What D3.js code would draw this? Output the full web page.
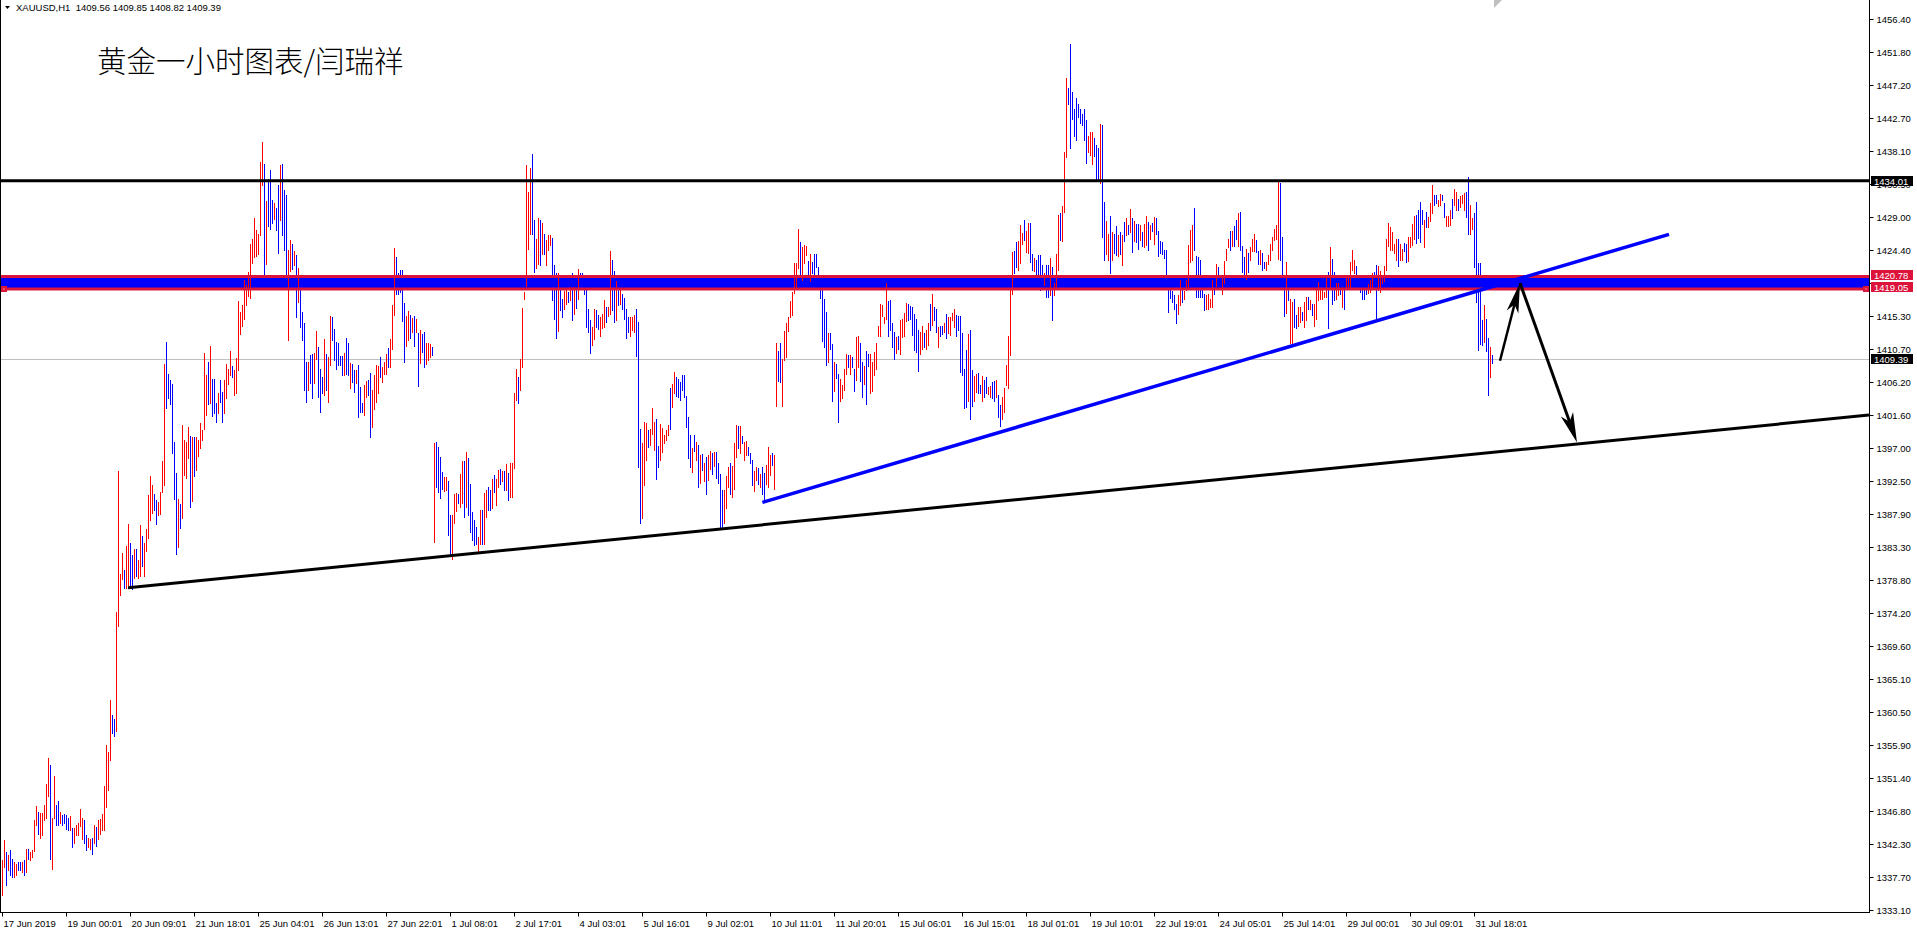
<!DOCTYPE html>
<html><head><meta charset="utf-8">
<script src="https://cdn.jsdelivr.net/npm/d3@7/dist/d3.min.js"></script>
<style>
html,body{margin:0;padding:0;background:#fff;overflow:hidden;}
svg{display:block;}
text{font-family:"Liberation Sans",Arial,sans-serif;}
</style></head><body>
<svg id="chart" width="1917" height="933"></svg>
<script>
// ---------------- DATA ----------------
const symbolInfo = "XAUUSD,H1  1409.56 1409.85 1408.82 1409.39";
const chartTitle = "黄金一小时图表/闫瑞祥";

// hourly bars (index 0 = 17 Jun 2019), high / low prices
const highs = [
1340.0,1342.8,1341.1,1340.7,1341.4,1340.2,1339.7,1339.5,1339.7,1339.8,
1339.8,1340.0,1341.5,1341.5,1341.1,1341.4,1345.5,1347.5,1346.6,1346.5,
1346.5,1347.6,1350.5,1354.1,1353.2,1345.9,1351.6,1347.6,1348.2,1346.6,
1346.3,1346.4,1346.3,1345.9,1346.1,1344.5,1344.5,1344.9,1345.2,1347.1,
1345.9,1345.6,1343.5,1343.1,1342.9,1343.1,1344.8,1344.6,1345.6,1345.7,
1346.4,1350.2,1355.9,1354.9,1362.2,1360.1,1359.5,1374.4,1393.8,1379.6,
1382.5,1380.1,1383.5,1386.5,1383.9,1382.2,1383.1,1383.0,1381.5,1386.4,
1384.8,1383.9,1385.8,1390.5,1393.1,1391.9,1390.6,1389.8,1389.6,1390.9,
1395.2,1408.7,1411.7,1407.3,1406.4,1405.9,1397.8,1393.6,1390.0,1389.3,
1400.2,1398.1,1397.9,1399.9,1398.7,1398.5,1398.5,1398.5,1398.1,1400.5,
1399.5,1410.2,1407.1,1409.0,1411.1,1406.6,1406.6,1403.3,1404.7,1406.4,
1404.8,1406.4,1408.6,1407.9,1410.4,1408.4,1407.8,1409.5,1417.4,1415.8,
1416.8,1420.3,1419.6,1421.4,1425.2,1425.9,1428.9,1427.2,1426.6,1436.6,
1439.4,1436.3,1431.2,1434.2,1435.5,1431.3,1431.0,1430.3,1433.4,1436.2,
1436.3,1432.7,1432.0,1424.5,1425.8,1425.2,1424.3,1423.7,1422.0,
1420.7,1415.9,1414.3,1409.0,1409.0,1409.9,1410.0,1410.2,1413.2,1411.0,
1408.0,1406.9,1412.1,1410.1,1409.6,1415.3,1415.2,1413.5,1411.7,1411.5,
1409.8,1409.8,1410.2,1412.3,1411.5,1408.8,1408.6,1407.8,1407.8,1408.5,
1405.5,1403.2,1405.7,1406.3,1406.5,1407.4,1405.0,1407.1,1408.5,1408.4,
1409.6,1408.3,1409.0,1410.0,1410.9,1412.1,1416.8,1424.7,1423.5,1421.2,
1421.6,1421.7,1417.1,1415.3,1416.0,1415.4,1415.0,1415.3,1414.9,1413.0,
1413.3,1412.8,1413.1,1411.5,1411.6,1411.4,1411.0,1397.7,1397.9,1397.2,
1395.8,1393.7,1393.0,1393.0,1392.4,1387.7,1387.7,1390.7,1390.8,1390.7,
1393.5,1395.2,1395.2,1396.5,1395.6,1392.0,1388.2,1387.1,1386.1,1384.7,
1388.4,1388.5,1390.8,1391.2,1391.6,1391.2,1392.7,1393.3,1392.8,1394.0,
1394.1,1393.9,1393.9,1394.8,1393.6,1395.0,1395.0,1404.7,1408.0,1406.9,
1409.4,1416.4,1418.6,1436.2,1432.5,1435.8,1437.7,1428.6,1426.0,1428.8,
1428.6,1428.2,1426.7,1425.8,1426.5,1426.5,1426.1,1422.3,1421.3,1421.2,
1419.1,1417.7,1418.8,1419.2,1418.6,1419.3,1421.2,1419.3,1419.6,1421.8,
1421.2,1421.2,1420.5,1420.3,1416.3,1414.7,1413.8,1416.2,1416.1,1415.4,
1415.2,1415.6,1417.5,1416.6,1416.5,1424.3,1423.0,1421.5,1420.1,1419.1,
1418.9,1418.4,1417.8,1416.3,1415.2,1415.2,1415.1,1415.4,1416.2,1414.5,
1399.7,1397.7,1400.7,1400.5,1399.5,1399.7,1402.6,1400.7,1401.1,1397.3,
1400.3,1399.8,1398.8,1399.5,1400.2,1405.4,1405.9,1407.6,1406.9,1406.6,
1406.2,1407.1,1407.1,1404.2,1401.3,1398.9,1397.0,1398.9,1397.8,1397.4,
1396.0,1396.2,1394.9,1395.8,1396.0,1396.6,1396.3,1396.5,1396.5,1394.9,
1393.4,1391.2,1391.2,1393.1,1394.4,1394.9,1394.5,1397.7,1400.2,1400.1,
1400.1,1398.7,1397.9,1398.0,1397.2,1396.3,1395.4,1393.9,1394.4,1394.3,
1393.5,1394.4,1393.6,1394.7,1397.2,1396.0,1396.3,1396.0,1411.5,1410.5,
1411.5,1409.4,1413.2,1414.3,1415.2,1417.4,1418.6,1422.7,1422.6,1427.3,
1425.6,1424.9,1425.1,1425.0,1422.9,1423.9,1422.8,1423.9,1423.9,1422.1,
1420.9,1419.3,1417.6,1415.8,1412.9,1413.0,1411.4,1408.9,1408.7,1407.3,
1406.6,1405.8,1408.0,1410.1,1409.9,1409.9,1409.6,1408.0,1412.4,1412.5,
1411.6,1408.9,1408.4,1410.4,1410.1,1410.1,1409.0,1410.3,1411.5,1413.9,
1416.9,1416.8,1415.2,1419.8,1417.4,1417.5,1414.3,1413.1,1412.4,1412.5,
1414.7,1414.9,1415.7,1417.1,1417.0,1416.7,1416.6,1415.6,1414.9,1413.3,
1413.1,1413.9,1413.0,1413.3,1414.3,1417.0,1418.3,1416.6,1416.2,1413.8,
1413.9,1413.9,1414.4,1415.6,1415.1,1415.2,1415.7,1416.3,1415.4,1415.3,
1415.3,1413.0,1407.9,1410.6,1412.8,1413.4,1407.8,1407.0,1407.3,1407.4,
1405.7,1407.0,1406.5,1406.9,1405.5,1405.6,1406.1,1406.3,1406.4,1404.3,
1403.0,1404.1,1405.3,1408.5,1412.6,1418.9,1424.2,1424.3,1425.6,1425.7,
1427.9,1426.8,1428.6,1427.0,1428.2,1428.2,1423.9,1423.3,1423.0,1423.7,
1423.7,1422.3,1421.2,1422.3,1422.3,1423.3,1422.1,1419.8,1423.9,1429.3,
1429.6,1430.5,1438.0,1448.2,1446.8,1453.0,1446.3,1444.0,1445.4,1444.7,
1443.9,1443.2,1443.9,1442.4,1440.2,1440.8,1440.8,1439.9,1438.9,1438.5,
1441.9,1441.8,1431.1,1428.4,1426.7,1429.1,1426.9,1426.6,1427.7,1426.5,
1426.9,1426.5,1428.3,1428.8,1427.9,1430.1,1428.9,1428.5,1428.1,1428.0,
1427.9,1426.9,1428.0,1429.2,1428.3,1427.9,1428.2,1429.0,1428.8,1427.1,
1425.7,1425.6,1424.5,1424.4,1419.6,1419.1,1418.8,1418.2,1417.0,1418.2,
1420.3,1420.0,1418.8,1420.3,1425.1,1427.2,1427.9,1430.2,1423.6,1423.5,
1423.0,1418.9,1418.4,1418.2,1418.4,1417.7,1420.3,1420.9,1422.5,1422.1,
1420.9,1420.8,1422.9,1424.6,1426.0,1427.0,1427.1,1427.7,1428.6,1429.6,
1429.7,1425.0,1423.4,1424.6,1424.0,1424.8,1425.9,1426.7,1425.8,1424.3,
1424.4,1424.0,1422.8,1422.8,1423.7,1425.3,1426.3,1427.3,1427.9,1433.9,
1433.7,1426.2,1420.8,1422.8,1418.9,1417.6,1417.3,1417.7,1415.4,1416.6,
1416.6,1415.9,1417.3,1417.9,1417.9,1417.5,1417.0,1417.0,1418.9,1420.0,
1419.1,1419.1,1418.6,1420.9,1421.4,1424.9,1423.2,1421.4,1419.8,1419.9,
1419.3,1418.9,1419.1,1420.7,1420.9,1422.8,1424.4,1423.0,1422.2,1420.5,
1419.1,1419.1,1419.0,1419.1,1419.7,1420.3,1421.2,1421.4,1422.3,1422.2,
1421.5,1420.9,1422.2,1425.9,1428.2,1427.6,1426.9,1425.3,1426.0,1426.0,
1425.3,1424.6,1425.4,1425.3,1426.2,1426.2,1428.0,1429.2,1429.3,1430.0,
1431.1,1430.0,1428.6,1429.7,1429.0,1431.0,1433.4,1432.0,1432.0,1431.4,
1432.2,1432.0,1430.9,1429.1,1429.1,1429.9,1431.5,1432.9,1432.5,1431.5,
1431.9,1432.0,1432.3,1432.5,1434.6,1430.6,1428.8,1429.5,1431.1,1422.6,
1422.6,1414.8,1416.8,1414.9,1412.2,1411.0,1409.85
];
const lows = [
1335.2,1339.0,1336.6,1338.6,1337.9,1337.6,1337.6,1337.9,1338.6,1338.6,
1338.3,1337.9,1338.3,1340.1,1340.0,1340.4,1341.3,1344.9,1343.6,1343.1,
1343.5,1345.6,1345.9,1348.9,1340.2,1338.8,1345.9,1344.9,1344.9,1345.2,
1344.9,1345.2,1344.3,1344.2,1344.2,1341.8,1342.4,1343.5,1343.5,1344.7,
1342.9,1342.4,1341.4,1341.8,1341.5,1340.8,1342.4,1341.9,1342.9,1343.6,
1344.2,1344.2,1347.3,1349.7,1353.9,1357.6,1357.2,1357.9,1372.4,1376.7,
1378.9,1377.7,1377.7,1378.1,1377.7,1377.5,1379.1,1379.3,1379.1,1379.3,
1380.7,1379.3,1382.8,1384.6,1387.1,1388.1,1388.4,1386.5,1387.7,1387.9,
1390.9,1391.9,1402.6,1403.9,1403.1,1396.4,1390.0,1382.4,1383.3,1386.0,
1387.4,1393.3,1392.9,1395.7,1388.9,1389.7,1393.2,1394.0,1395.9,1397.1,
1398.1,1399.6,1401.6,1403.1,1403.3,1401.4,1401.9,1400.7,1401.9,1403.4,
1400.7,1401.9,1404.0,1405.9,1407.1,1406.9,1404.4,1404.6,1407.8,1412.8,
1413.9,1414.9,1416.8,1418.0,1417.8,1422.7,1423.4,1423.6,1423.9,1426.5,
1433.4,1420.9,1422.5,1427.7,1427.3,1428.2,1428.7,1427.2,1424.0,1428.6,
1426.5,1424.5,1421.1,1412.0,1421.5,1421.8,1422.3,1415.1,1417.2,
1413.8,1412.0,1405.0,1403.4,1405.0,1406.0,1403.9,1406.0,1409.4,1404.1,
1402.0,1404.6,1404.3,1405.0,1403.4,1408.5,1412.0,1409.2,1408.0,1408.5,
1408.5,1407.1,1407.1,1407.3,1407.1,1405.4,1406.2,1404.8,1406.0,1401.3,
1402.0,1402.0,1401.6,1404.1,1404.3,1398.6,1400.0,1402.4,1403.4,1404.6,
1406.9,1406.2,1407.3,1407.3,1408.3,1408.3,1410.7,1415.4,1418.4,1418.3,
1418.6,1414.6,1408.9,1411.1,1412.0,1412.3,1413.1,1411.2,1413.1,1405.6,
1408.8,1410.3,1408.3,1408.7,1409.2,1409.6,1409.9,1384.0,1391.7,1391.0,
1390.1,1391.4,1391.1,1391.2,1385.0,1382.2,1381.7,1386.6,1388.3,1389.4,
1388.9,1389.4,1387.5,1388.9,1387.7,1385.4,1384.3,1383.6,1383.8,1382.7,
1383.8,1383.8,1383.8,1387.5,1388.4,1388.4,1388.7,1391.0,1389.1,1391.7,
1392.1,1392.4,1391.2,1391.2,1389.9,1390.2,1390.3,1394.2,1403.7,1403.2,
1405.0,1408.2,1417.7,1419.5,1424.6,1426.7,1426.6,1421.4,1421.9,1422.5,
1422.3,1423.9,1423.9,1422.3,1424.4,1425.1,1417.5,1414.9,1412.3,1413.2,
1416.1,1415.1,1416.3,1417.0,1417.3,1417.5,1414.7,1415.6,1416.4,1417.7,
1419.3,1419.1,1418.4,1413.8,1413.1,1410.2,1411.3,1412.1,1413.8,1413.5,
1412.6,1413.6,1413.8,1414.5,1415.3,1415.6,1416.1,1414.5,1414.7,1416.8,
1417.0,1416.3,1414.9,1412.2,1413.1,1412.5,1413.3,1413.1,1409.8,1394.4,
1386.6,1387.4,1391.9,1395.4,1397.2,1397.4,1399.0,1396.7,1392.8,1394.4,
1395.4,1396.5,1397.7,1398.2,1398.8,1399.6,1402.7,1404.6,1404.2,1404.1,
1403.7,1405.0,1404.1,1400.0,1395.6,1394.4,1393.7,1396.6,1395.4,1391.7,
1392.2,1394.0,1392.5,1390.7,1392.6,1394.1,1393.5,1394.5,1392.9,1392.2,
1385.9,1386.0,1386.7,1388.7,1391.7,1390.7,1390.3,1391.3,1395.8,1397.0,
1396.3,1397.7,1395.4,1396.1,1396.0,1394.9,1391.9,1391.1,1392.6,1392.1,
1391.6,1390.7,1389.6,1392.1,1391.6,1393.3,1394.7,1391.4,1402.8,1406.3,
1406.2,1402.9,1409.2,1409.6,1413.2,1415.1,1415.4,1418.5,1419.3,1421.9,
1420.4,1420.3,1422.6,1423.7,1421.1,1420.2,1421.3,1420.8,1422.1,1421.0,
1417.8,1411.9,1411.0,1408.5,1408.9,1410.8,1403.6,1404.9,1406.7,1400.7,
1403.6,1403.9,1405.0,1407.3,1408.3,1407.3,1408.3,1404.9,1406.4,1408.3,
1406.3,1404.1,1405.9,1403.1,1408.4,1404.7,1404.9,1407.2,1408.0,1412.5,
1412.5,1415.3,1414.4,1414.9,1412.6,1413.3,1411.0,1409.4,1410.2,1410.7,
1410.1,1412.4,1412.5,1414.6,1414.7,1414.9,1412.7,1410.6,1410.3,1407.7,
1410.1,1410.7,1411.0,1410.7,1411.3,1413.4,1414.0,1414.7,1413.1,1411.0,
1412.5,1412.8,1413.1,1412.2,1413.0,1412.7,1414.7,1413.8,1412.5,1413.3,
1407.6,1407.1,1402.6,1402.7,1403.6,1401.0,1402.8,1403.6,1404.8,1404.7,
1404.6,1403.6,1404.1,1404.7,1404.5,1404.1,1404.0,1403.6,1404.1,1401.3,
1400.1,1401.0,1402.0,1405.7,1405.3,1409.9,1418.4,1421.2,1422.1,1421.6,
1422.6,1425.3,1425.8,1424.2,1424.0,1422.8,1421.6,1421.5,1420.5,1420.3,
1418.9,1420.0,1419.6,1417.9,1417.9,1418.2,1414.7,1418.2,1419.1,1421.6,
1425.8,1425.7,1429.7,1437.3,1444.6,1438.6,1442.5,1440.2,1439.6,1442.8,
1442.0,1441.8,1439.6,1436.5,1438.0,1437.6,1436.4,1437.4,1434.1,1434.2,
1433.7,1426.2,1423.1,1423.9,1423.1,1421.2,1423.0,1424.0,1423.7,1423.6,
1423.9,1422.3,1425.7,1426.5,1426.7,1426.9,1424.2,1425.7,1425.5,1424.6,
1425.8,1425.0,1424.9,1425.1,1424.5,1425.9,1427.1,1425.3,1426.6,1423.6,
1424.0,1423.9,1423.3,1419.4,1415.9,1417.8,1417.3,1416.2,1414.3,1415.6,
1416.8,1417.3,1417.7,1418.9,1419.3,1422.8,1423.0,1424.4,1417.9,1417.9,
1417.9,1417.9,1416.1,1416.2,1416.3,1416.6,1416.5,1418.4,1419.4,1419.4,
1419.6,1418.3,1419.8,1423.1,1424.8,1424.5,1425.0,1425.0,1425.9,1425.0,
1424.4,1421.4,1421.1,1420.4,1421.4,1423.0,1424.3,1424.3,1424.2,1422.5,
1422.5,1421.7,1421.9,1421.6,1422.5,1423.0,1424.4,1425.8,1426.0,1423.2,
1423.1,1420.2,1415.3,1415.7,1417.5,1411.6,1411.5,1413.8,1413.6,1413.9,
1414.5,1414.7,1413.8,1414.7,1416.3,1416.3,1415.4,1413.9,1414.9,1417.5,
1417.6,1417.7,1417.9,1417.9,1413.6,1419.3,1417.0,1417.5,1417.7,1418.2,
1418.4,1416.6,1416.3,1419.3,1419.3,1419.3,1421.6,1421.2,1420.2,1419.1,
1418.6,1417.6,1417.7,1418.4,1418.5,1418.6,1419.3,1419.8,1414.7,1418.9,
1418.6,1419.8,1420.2,1421.6,1425.0,1424.5,1424.4,1424.0,1423.0,1422.2,
1423.1,1423.1,1424.3,1422.8,1422.9,1424.8,1425.1,1425.9,1425.4,1426.1,
1425.5,1428.1,1424.9,1427.6,1427.6,1428.5,1429.6,1430.6,1430.9,1430.5,
1430.6,1431.3,1429.0,1427.7,1427.7,1427.9,1428.9,1430.6,1429.9,1430.0,
1430.4,1430.9,1429.9,1429.0,1426.7,1426.7,1427.4,1422.1,1417.3,1410.6,
1411.4,1411.3,1411.7,1410.5,1404.3,1406.9,1408.82
];
// R = bullish bar (close above open), B = bearish bar
const barDirection = [
"RRBRBBRRBB","RBRBRRRRBR","RRRRBRRBBR","BBBBRBRRRR","RBBRRBRBRR",
"RRRRRBBRRR","RBRRBBRBRR","BRRRRRBBRR","RRBBBBBBRB","RRRRBRBRRR",
"RRRBRBBBRB","BRRRRBRRRR","RRRRRRRRRR","RBRBBBRBBR","BBBRRBRBR",
"BBBBRBBRRB","BBRBRRBBBB","BBRBBRBBRB","BBRRBBRRRR","BRRRBRRRBB",
"BBBRRBRBRB","RBBRRRBRBB","BBRRBBRRRB","RRBRBBBBBR","RBRRBBRBRR",
"BRBRBRRRRB","RRRRRRBBRR","BRBRRRBBBR","BBRRBRBRBR","BBBBBBRRBB",
"RRRBRRBBRB","RBBBBRRRBB","BRRRBRRRBB","RRRRRBRRBB","BBBBBBRBRB",
"RBRBRRBRBB","BBRRRBRRRB","RBRRBBBRRB","RBBRRRBRRB","BRRRRRRRRR",
"BRRRBRBBBB","BBBBRBBRBB","RRRRBRBBRR","BBRBBRRRRR","RRRRBBBBRB",
"RRRRBBBBBB","RRBRRBRBBR","BBRBRRRRBB","BBBBRBBRRB","BRBBRRBBRB",
"BRRRRRRBBR","RRBRRBBRBB","BBRBBRBRRR","BRRRBBBBBB","BBBBRRRBBB",
"RBBRRBRBBR","BRBRBRBRBB","RBRRBRBRBB","BBBBBBBBBR","RBRRRRRBBB",
"BBBRRRRBRB","BRRRRBRBBR","BBBRBRRRBB","RBBRRRRRRR","BBBRBRRBBR",
"RBRRBRBRRR","RRRRBRBBRR","BRBRRRRRBB","BBBBRRRBBR","RRRRRRRRRB",
"RRBBRRRRBB","BBRBRRRBBR","RBBRRRBRRB","RRRBBRRBBB","BBRBBRB"
].join("");

const xTickLabels = ["17 Jun 2019","19 Jun 00:01","20 Jun 09:01","21 Jun 18:01","25 Jun 04:01",
  "26 Jun 13:01","27 Jun 22:01","1 Jul 08:01","2 Jul 17:01","4 Jul 03:01","5 Jul 16:01",
  "9 Jul 02:01","10 Jul 11:01","11 Jul 20:01","15 Jul 06:01","16 Jul 15:01","18 Jul 01:01",
  "19 Jul 10:01","22 Jul 19:01","24 Jul 05:01","25 Jul 14:01","29 Jul 00:01","30 Jul 09:01","31 Jul 18:01"];
const barsPerXTick = 32;
const yTickLabels = ["1456.40","1451.80","1447.20","1442.70","1438.10","1433.50","1429.00","1424.40",
  "1419.80","1415.30","1410.70","1406.20","1401.60","1397.00","1392.50","1387.90","1383.30","1378.80",
  "1374.20","1369.60","1365.10","1360.50","1355.90","1351.40","1346.80","1342.30","1337.70","1333.10"];
const visibleBars = 933.5;            // bar slots across the plot
const priceRange = [1333.10, 1456.40];

// drawn objects (bar index, price)
const resistanceLevel = 1434.01;
const zoneLevels = [1420.78, 1419.05];
const bidLevel = 1409.39;
const supportRay = [[63, 1377.7], [360, 1385.85]];
const blueTrend = [[380.2, 1389.5], [833.5, 1426.6]];
const arrowUp = [[749, 1409.1], [759, 1419.87]];
const arrowDown = [[759, 1419.87], [787.5, 1397.8]];

// ---------------- DRAW ----------------
const plotRight = 1869, plotBottom = 912;
const FS = 9.5;
const svg = d3.select("#chart");
const x = d3.scaleLinear().domain([0, visibleBars]).range([2, plotRight]);
const y = d3.scaleLinear().domain(priceRange).range([910, 19]);
const RED = "#ff0000", BLUE = "#0000ff", CRIMSON = "#dc143c";

svg.append("defs").append("clipPath").attr("id", "plotClip")
  .append("rect").attr("x", 0).attr("y", 0).attr("width", plotRight).attr("height", plotBottom);
const plot = svg.append("g").attr("clip-path", "url(#plotClip)");

const cy = v => Math.round(y(v));

// zone (background rectangle)
plot.append("rect").attr("x", 0).attr("width", plotRight)
  .attr("y", cy(zoneLevels[0])).attr("height", cy(zoneLevels[1]) - cy(zoneLevels[0]))
  .attr("fill", BLUE);

// bid line
plot.append("line").attr("x1", 0).attr("x2", plotRight)
  .attr("y1", cy(bidLevel) + 0.5).attr("y2", cy(bidLevel) + 0.5)
  .attr("stroke", "#c0c0c0").attr("stroke-width", 1);

// bars
plot.append("g").attr("shape-rendering", "crispEdges")
  .selectAll("line").data(d3.range(highs.length)).join("line")
  .attr("x1", i => Math.round(x(i)) + 0.5).attr("x2", i => Math.round(x(i)) + 0.5)
  .attr("y1", i => cy(highs[i])).attr("y2", i => cy(lows[i]) + 1)
  .attr("stroke", i => barDirection[i] === "R" ? RED : BLUE).attr("stroke-width", 1);

// zone border lines
zoneLevels.forEach(v => {
  plot.append("line").attr("x1", 0).attr("x2", plotRight).attr("y1", y(v)).attr("y2", y(v))
    .attr("stroke", CRIMSON).attr("stroke-width", 3);
});
// resistance line
plot.append("line").attr("x1", 0).attr("x2", plotRight)
  .attr("y1", y(resistanceLevel)).attr("y2", y(resistanceLevel))
  .attr("stroke", "#000").attr("stroke-width", 3);

// support ray
{
  const [p0, p1] = supportRay;
  const slope = (p1[1] - p0[1]) / (p1[0] - p0[0]);
  const endPrice = p0[1] + slope * (visibleBars - p0[0]);
  plot.append("line").attr("x1", x(p0[0])).attr("y1", y(p0[1]))
    .attr("x2", x(visibleBars)).attr("y2", y(endPrice))
    .attr("stroke", "#000").attr("stroke-width", 3);
}
// blue trend line
plot.append("line").attr("x1", x(blueTrend[0][0])).attr("y1", y(blueTrend[0][1]))
  .attr("x2", x(blueTrend[1][0])).attr("y2", y(blueTrend[1][1]))
  .attr("stroke", BLUE).attr("stroke-width", 3.5);

// arrows
function drawArrow(seg, shaftW, headLen, headHalf) {
  const x0 = x(seg[0][0]), y0 = y(seg[0][1]), x1 = x(seg[1][0]), y1 = y(seg[1][1]);
  const dx = x1 - x0, dy = y1 - y0, L = Math.hypot(dx, dy);
  const ux = dx / L, uy = dy / L, nx = -uy, ny = ux;
  const bx = x1 - ux * headLen, by = y1 - uy * headLen;
  plot.append("line").attr("x1", x0).attr("y1", y0).attr("x2", bx + ux * 4).attr("y2", by + uy * 4)
    .attr("stroke", "#000").attr("stroke-width", shaftW);
  const nb = headLen * 0.15;
  const pts = [[x1, y1], [bx + nx * headHalf - ux * nb, by + ny * headHalf - uy * nb],
    [bx + ux * nb, by + uy * nb], [bx - nx * headHalf - ux * nb, by - ny * headHalf - uy * nb]];
  plot.append("path").attr("d", "M" + pts.map(p => p.join(",")).join("L") + "Z").attr("fill", "#000");
}
drawArrow(arrowUp, 2.5, 26, 6);
drawArrow(arrowDown, 3, 26, 6.5);

// frame
svg.append("line").attr("x1", 0.5).attr("x2", 0.5).attr("y1", 0).attr("y2", plotBottom + 1).attr("stroke", "#000");
svg.append("line").attr("x1", 0).attr("x2", plotRight + 1).attr("y1", plotBottom + 0.5).attr("y2", plotBottom + 0.5).attr("stroke", "#000");
svg.append("line").attr("x1", plotRight + 0.5).attr("x2", plotRight + 0.5).attr("y1", 0).attr("y2", plotBottom + 1).attr("stroke", "#000");

// price label boxes (drawn over the axis), and the tick labels they cover are hidden as in the terminal
const boxes = [[resistanceLevel, "#000", 0], [zoneLevels[0], CRIMSON, -1.5], [zoneLevels[1], CRIMSON, -1.5], [bidLevel, "#000", 0]];
const covered = lbl => boxes.some(([v, , s]) => Math.abs(y(+lbl) - (y(v) + s)) < 8) && +lbl !== 1433.5;

// right price axis
const yAxis = d3.axisRight(y).tickValues(yTickLabels.map(Number))
  .tickFormat((d, i) => covered(yTickLabels[i]) ? "" : yTickLabels[i]).tickSize(4).tickPadding(3).tickSizeOuter(0);
const gy = svg.append("g").attr("transform", `translate(${plotRight + 0.5},0)`).call(yAxis);
gy.select(".domain").remove();
gy.selectAll(".tick").attr("transform", d => `translate(0,${cy(d) + 0.5})`);
gy.selectAll(".tick line").attr("stroke", "#000");
gy.selectAll(".tick text").attr("font-family", "Liberation Sans, Arial, sans-serif")
  .attr("font-size", FS).attr("fill", "#000").attr("dy", "0.33em");

// bottom time axis
const xAxis = d3.axisBottom(x).tickValues(xTickLabels.map((_, i) => i * barsPerXTick))
  .tickFormat((d, i) => xTickLabels[i]).tickSize(4).tickPadding(2).tickSizeOuter(0);
const gx = svg.append("g").attr("transform", `translate(0,${plotBottom + 0.5})`).call(xAxis);
gx.select(".domain").remove();
gx.selectAll(".tick").attr("transform", d => `translate(${Math.round(x(d)) + 0.5},0)`);
gx.selectAll(".tick line").attr("stroke", "#000");
gx.selectAll(".tick text").attr("font-family", "Liberation Sans, Arial, sans-serif")
  .attr("font-size", FS).attr("fill", "#000").attr("text-anchor", "start").attr("x", 1).attr("dy", "0.9em");

function priceBox(v, color, shift) {
  const yc = y(v) + shift;
  svg.append("rect").attr("x", plotRight + 2).attr("y", Math.round(yc - 5)).attr("width", 42).attr("height", 10).attr("fill", color);
  svg.append("text").attr("x", plotRight + 5).attr("y", Math.round(yc - 5) + 8.5)
    .attr("font-size", FS).attr("fill", "#fff").text(v.toFixed(2));
}
boxes.forEach(([v, c, s]) => priceBox(v, c, s));
// rectangle anchor markers
[[1, zoneLevels[1]], [plotRight - 6, zoneLevels[1]]].forEach(([px, v]) => {
  svg.append("rect").attr("x", px).attr("y", Math.round(y(v)) - 3).attr("width", 6).attr("height", 6).attr("fill", CRIMSON);
  svg.append("rect").attr("x", px + 2.5).attr("y", Math.round(y(v)) - 0.5).attr("width", 1).attr("height", 1).attr("fill", "#fff");
});

// header
svg.append("path").attr("d", "M5,6L10,6L7.5,9Z").attr("fill", "#000");
svg.append("text").attr("x", 16).attr("y", 11).attr("font-size", FS).attr("fill", "#000")
  .style("white-space", "pre").text(symbolInfo);
// chart shift marker
svg.append("path").attr("d", `M${x(746)},0L${x(746) + 8},0L${x(746)},8Z`).attr("fill", "#c0c0c0");

// title
svg.append("text").attr("x", 97).attr("y", 72)
  .style("font-family", "'Noto Sans CJK SC', sans-serif").attr("font-size", 29.5).attr("font-weight", 300)
  .attr("fill", "#000").text(chartTitle);

if (highs.length !== lows.length || highs.length !== barDirection.length) console.error("length mismatch", highs.length, lows.length, barDirection.length);
</script>
</body></html>
